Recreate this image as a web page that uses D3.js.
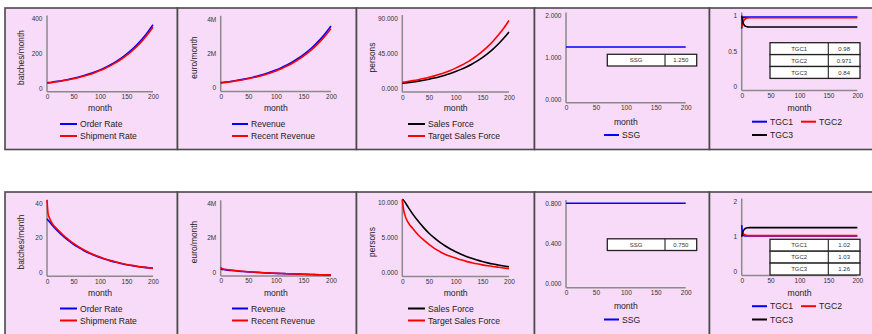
<!DOCTYPE html>
<html>
<head>
<meta charset="utf-8">
<script src="https://cdn.jsdelivr.net/npm/d3@7"></script>
<style>
  body { margin: 0; background: #fff; }
  svg { display: block; font-family: "Liberation Sans", Arial, sans-serif; }
</style>
</head>
<body>
<svg id="chart" width="872" height="334"></svg>
<script>
// ---- data ----
const months = [0, 2, 5, 10, 20, 30, 40, 50, 60, 70, 80, 90, 100, 110, 120, 130, 140, 150, 160, 170, 180, 190, 200];
const flatMonths = [0, 200];
const tgcMonths = [0, 1, 2, 3, 5, 7, 10, 15, 20, 50, 100, 150, 200];
const monthTicks = [0, 50, 100, 150, 200];

// scenario A (top row)
const orderRateA = [30, 30.8, 31.9, 34.0, 38.5, 43.6, 49.5, 56.0, 63.5, 72.0, 81.5, 92.4, 104.7, 118.6, 134.5, 152.3, 172.6, 195.6, 221.7, 251.2, 284.6, 322.5, 365];
const shipmentRateA = [27, 28, 29.5, 32.0, 36.6, 41.6, 47.3, 53.6, 60.8, 69.0, 78.2, 88.6, 100.5, 113.9, 129.1, 146.3, 165.8, 187.9, 213, 241.3, 273.5, 310, 351];
const revenueA = [0.295, 0.302, 0.314, 0.334, 0.379, 0.429, 0.486, 0.551, 0.625, 0.708, 0.802, 0.909, 1.030, 1.167, 1.322, 1.498, 1.698, 1.924, 2.180, 2.470, 2.799, 3.171, 3.593];
const recentRevenueA = [0.27, 0.277, 0.29, 0.311, 0.355, 0.403, 0.458, 0.52, 0.59, 0.67, 0.76, 0.862, 0.978, 1.109, 1.258, 1.427, 1.618, 1.835, 2.081, 2.36, 2.676, 3.035, 3.44];
const salesForceA = [6.4, 6.55, 6.8, 7.23, 8.16, 9.21, 10.4, 11.74, 13.26, 14.97, 16.9, 19.08, 21.55, 24.33, 27.47, 31.01, 35.01, 39.53, 44.63, 50.39, 56.89, 64.23, 72.5];
const targetSalesForceA = [7.7, 7.9, 8.18, 8.69, 9.82, 11.08, 12.51, 14.13, 15.95, 18.01, 20.33, 22.95, 25.91, 29.26, 33.03, 37.29, 42.1, 47.53, 53.66, 60.58, 68.4, 77.2, 87.2];
const ssgA = [1.25, 1.25];
const tgc1A = [0.82, 0.93, 0.97, 0.98, 0.98, 0.98, 0.98, 0.98, 0.98, 0.98, 0.98, 0.98, 0.98];
const tgc2A = [0.84, 0.87, 0.9, 0.92, 0.945, 0.96, 0.968, 0.971, 0.971, 0.971, 0.971, 0.971, 0.971];
const tgc3A = [1.0, 0.95, 0.91, 0.885, 0.86, 0.85, 0.843, 0.84, 0.84, 0.84, 0.84, 0.84, 0.84];
const ssgTableA = ["1.250"];
const tgcTableA = ["0.98", "0.971", "0.84"];

// scenario B (bottom row)
const orderRateB = [31.0, 30.2, 29.2, 27.3, 24.0, 21.1, 18.6, 16.3, 14.4, 12.6, 11.1, 9.8, 8.6, 7.6, 6.7, 5.9, 5.2, 4.5, 4.0, 3.5, 3.1, 2.7, 2.4];
const shipmentRateB = [42, 34, 31.2, 28.2, 24.8, 21.8, 19.2, 16.8, 14.8, 13.0, 11.4, 10.1, 8.9, 7.8, 6.9, 6.1, 5.35, 4.65, 4.1, 3.6, 3.2, 2.8, 2.45];
const revenueB = [0.17, 0.165, 0.155, 0.13, 0.10, 0.07, 0.04, 0.02, 0.0, -0.02, -0.04, -0.055, -0.07, -0.08, -0.09, -0.1, -0.11, -0.12, -0.13, -0.14, -0.15, -0.155, -0.16];
const recentRevenueB = [0.28, 0.22, 0.19, 0.16, 0.12, 0.085, 0.055, 0.03, 0.01, -0.01, -0.03, -0.047, -0.062, -0.075, -0.086, -0.097, -0.107, -0.117, -0.127, -0.137, -0.146, -0.153, -0.16];
const salesForceB = [10.5, 10.4, 10.1, 9.5, 8.35, 7.35, 6.45, 5.65, 4.98, 4.38, 3.86, 3.41, 3.01, 2.65, 2.34, 2.07, 1.82, 1.61, 1.42, 1.25, 1.11, 0.98, 0.86];
const targetSalesForceB = [10.5, 9.2, 8.2, 7.3, 6.3, 5.4, 4.7, 4.05, 3.5, 3.05, 2.65, 2.35, 2.1, 1.85, 1.63, 1.45, 1.28, 1.13, 1.0, 0.89, 0.79, 0.69, 0.6];
const ssgB = [0.75, 0.75];
const tgc1B = [1.33, 1.12, 1.05, 1.03, 1.02, 1.02, 1.02, 1.02, 1.02, 1.02, 1.02, 1.02, 1.02];
const tgc2B = [1.15, 1.12, 1.1, 1.08, 1.06, 1.045, 1.035, 1.03, 1.03, 1.03, 1.03, 1.03, 1.03];
const tgc3B = [1.0, 1.07, 1.13, 1.17, 1.22, 1.24, 1.255, 1.26, 1.26, 1.26, 1.26, 1.26, 1.26];
const ssgTableB = ["0.750"];
const tgcTableB = ["1.02", "1.03", "1.26"];

// y ticks and their labels
const rateTicksA = [0, 200, 400], rateLabelsA = ["0", "200", "400"];
const rateTicksB = [0, 20, 40], rateLabelsB = ["0", "20", "40"];
const revTicks = [0, 2, 4], revLabels = ["0", "2M", "4M"];
const sfTicksA = [0, 45, 90], sfLabelsA = ["0.000", "45.000", "90.000"];
const sfTicksB = [0, 5, 10], sfLabelsB = ["0.000", "5.000", "10.000"];
const ssgTicksA = [0, 1, 2], ssgLabelsA = ["0.000", "1.000", "2.000"];
const ssgTicksB = [0, 0.375, 0.75], ssgLabelsB = ["0.000", "0.400", "0.800"];
const tgcTicksA = [0, 0.5, 1], tgcLabelsA = ["0", "0.5", "1"];
const tgcTicksB = [0, 1, 2], tgcLabelsB = ["0", "1", "2"];

const BLUE = "#0000ff", RED = "#ff0000", BLACK = "#000000";

// ---- layout ----
const svg = d3.select("#chart");
const panelX = [[5, 177.5], [177.5, 356.5], [356.5, 534.5], [534.5, 709.5], [709.5, 874]];
const rows = [
  { y: 0, top: 8, bottom: 149.5, scen: "A" },
  { y: 184.5, top: 7.5, bottom: 160, scen: "B" }
];

function buildPanels(s) {
  const A = s === "A";
  return [
    {
      px: 0, x0: 47, x1: 153, yPx: [88, 18.7], title: "batches/month", titleX: 20.7,
      ticks: A ? rateTicksA : rateTicksB, labels: A ? rateLabelsA : rateLabelsB,
      series: [
        { name: "Order Rate", xs: months, ys: A ? orderRateA : orderRateB, color: BLUE },
        { name: "Shipment Rate", xs: months, ys: A ? shipmentRateA : shipmentRateB, color: RED }
      ],
      monthY: 108.3, legend: [[60, 124], [60, 136]], legLen: 17
    },
    {
      px: 1, x0: 220.7, x1: 331, yPx: [87.7, 19], title: "euro/month", titleX: 194.3,
      ticks: revTicks, labels: revLabels,
      series: [
        { name: "Revenue", xs: months, ys: A ? revenueA : revenueB, color: BLUE },
        { name: "Recent Revenue", xs: months, ys: A ? recentRevenueA : recentRevenueB, color: RED }
      ],
      monthY: 108.3, legend: [[232, 124], [232, 136]], legLen: 16
    },
    {
      px: 2, x0: 402.3, x1: 509, yPx: [88.3, 18.3], title: "persons", titleX: 372.3,
      ticks: A ? sfTicksA : sfTicksB, labels: A ? sfLabelsA : sfLabelsB,
      series: [
        { name: "Sales Force", xs: months, ys: A ? salesForceA : salesForceB, color: BLACK },
        { name: "Target Sales Force", xs: months, ys: A ? targetSalesForceA : targetSalesForceB, color: RED }
      ],
      monthY: 108.3, legend: [[408, 124], [408, 136]], legLen: 17
    },
    {
      px: 3, x0: 566, x1: 685.7, yPx: A ? [99, 15.7] : [99.4, 18.7], title: null,
      ticks: A ? ssgTicksA : ssgTicksB, labels: A ? ssgLabelsA : ssgLabelsB,
      series: [
        { name: "SSG", xs: flatMonths, ys: A ? ssgA : ssgB, color: BLUE }
      ],
      monthY: 121.7, legend: [[604, 135]], legLen: 15,
      table: { x: [607.3, 665, 696.7], y0: 54.3, h: 11.7, rows: [["SSG", (A ? ssgTableA : ssgTableB)[0]]] }
    },
    {
      px: 4, x0: 741.7, x1: 857.3, yPx: A ? [86.7, 15.7] : [87.2, 17.2], title: null,
      ticks: A ? tgcTicksA : tgcTicksB, labels: A ? tgcLabelsA : tgcLabelsB,
      series: [
        { name: "TGC1", xs: tgcMonths, ys: A ? tgc1A : tgc1B, color: BLUE },
        { name: "TGC2", xs: tgcMonths, ys: A ? tgc2A : tgc2B, color: RED },
        { name: "TGC3", xs: tgcMonths, ys: A ? tgc3A : tgc3B, color: BLACK }
      ],
      monthY: 108.3, legend: [[752, 121.7], [801, 121.7], [752, 135]], legLen: 15,
      table: {
        x: [770, 828.3, 860], y0: A ? 42.7 : 54.8, h: 11.9,
        rows: (A ? tgcTableA : tgcTableB).map((v, i) => ["TGC" + (i + 1), v])
      }
    }
  ];
}

rows.forEach(row => {
  const g = svg.append("g").attr("transform", `translate(0,${row.y})`);

  // panel backgrounds
  panelX.forEach(([a, b]) => {
    g.append("rect")
      .attr("x", a).attr("y", row.top)
      .attr("width", b - a).attr("height", row.bottom - row.top)
      .attr("fill", "#f8dbf9")
      .attr("stroke", "#4a4a4a")
      .attr("stroke-width", 1.6);
  });

  buildPanels(row.scen).forEach(p => {
    const x = d3.scaleLinear().domain([0, 200]).range([p.x0, p.x1]);
    const y = d3.scaleLinear().domain([p.ticks[0], p.ticks[p.ticks.length - 1]]).range(p.yPx);
    const axisY = p.yPx[0] + 3.8;
    const axisTop = p.yPx[1] - 3.2;

    // axis lines
    g.append("line").attr("x1", p.x0).attr("x2", p.x0).attr("y1", axisTop).attr("y2", axisY)
      .attr("stroke", "#8a8a8a").attr("stroke-width", 1.5);
    g.append("line").attr("x1", p.x0).attr("x2", p.x1).attr("y1", axisY).attr("y2", axisY)
      .attr("stroke", "#8a8a8a").attr("stroke-width", 1.5);

    const yAxis = g.append("g")
      .attr("transform", `translate(${p.x0},0)`)
      .call(d3.axisLeft(y).tickValues(p.ticks).tickFormat((d, i) => p.labels[i]).tickSize(0).tickPadding(4.5));
    const xAxis = g.append("g")
      .attr("transform", `translate(0,${axisY})`)
      .call(d3.axisBottom(x).tickValues(monthTicks).tickFormat(d3.format("d")).tickSize(0).tickPadding(2.8));
    [yAxis, xAxis].forEach(a => {
      a.select(".domain").remove();
      a.selectAll("text").attr("font-size", 6.5).attr("fill", "#333").attr("font-family", null);
    });

    // titles
    g.append("text").attr("x", (p.x0 + p.x1) / 2).attr("y", p.monthY + 3)
      .attr("text-anchor", "middle").attr("font-size", 8.6).attr("fill", "#222").text("month");
    if (p.title) {
      g.append("text")
        .attr("transform", `translate(${p.titleX + 3},57.5) rotate(-90)`)
        .attr("text-anchor", "middle").attr("font-size", 8.4).attr("fill", "#222").text(p.title);
    }

    // lines
    const line = d3.line().x(d => x(d[0])).y(d => y(d[1])).curve(d3.curveMonotoneX);
    p.series.forEach(s => {
      g.append("path")
        .datum(s.xs.map((m, i) => [m, s.ys[i]]))
        .attr("d", line)
        .attr("fill", "none")
        .attr("stroke", s.color)
        .attr("stroke-width", 1.6);
    });

    // value table
    if (p.table) {
      const t = p.table;
      t.rows.forEach((r, i) => {
        const ty = t.y0 + i * t.h;
        g.append("rect").attr("x", t.x[0]).attr("y", ty)
          .attr("width", t.x[2] - t.x[0]).attr("height", t.h)
          .attr("fill", "#fff").attr("stroke", "#222").attr("stroke-width", 1.3);
        g.append("line").attr("x1", t.x[1]).attr("x2", t.x[1]).attr("y1", ty).attr("y2", ty + t.h)
          .attr("stroke", "#222").attr("stroke-width", 1.1);
        g.append("text").attr("x", (t.x[0] + t.x[1]) / 2).attr("y", ty + t.h / 2 + 2.1)
          .attr("text-anchor", "middle").attr("font-size", 6).attr("fill", "#333").text(r[0]);
        g.append("text").attr("x", (t.x[1] + t.x[2]) / 2).attr("y", ty + t.h / 2 + 2.1)
          .attr("text-anchor", "middle").attr("font-size", 6).attr("fill", "#333").text(r[1]);
      });
    }

    // legend
    p.series.forEach((s, i) => {
      const [lx, ly] = p.legend[i];
      g.append("line").attr("x1", lx).attr("x2", lx + p.legLen).attr("y1", ly).attr("y2", ly)
        .attr("stroke", s.color).attr("stroke-width", 2);
      g.append("text").attr("x", lx + p.legLen + 3).attr("y", ly + 3.1)
        .attr("font-size", 8.6).attr("fill", "#222").text(s.name);
    });
  });
});
</script>
</body>
</html>
